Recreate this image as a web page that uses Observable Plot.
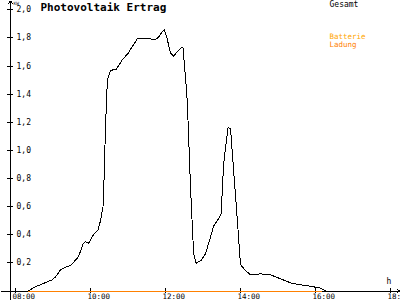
<!DOCTYPE html>
<html>
<head>
<meta charset="utf-8">
<script src="https://cdn.jsdelivr.net/npm/d3@7"></script>
<script src="https://cdn.jsdelivr.net/npm/@observablehq/plot@0.6"></script>
<style>
  html, body { margin: 0; padding: 0; background: #fff; }
  svg { display: block; }
</style>
</head>
<body>
<div id="chart"></div>
<script>
// ---- data ----
const pvTimes = ["07:52","08:20","08:32","08:59","09:04","09:12","09:20","09:28","09:41","09:48","09:52","09:57",
  "10:04","10:12","10:16","10:20","10:21","10:24","10:27","10:32","10:41","10:51","11:00","11:08","11:15","11:23",
  "11:33","11:43","11:49","11:55","11:58","12:02","12:08","12:13","12:19","12:26","12:28","12:32","12:35","12:40",
  "12:45","12:49","12:57","13:04","13:12","13:17","13:25","13:29","13:33","13:40","13:44","13:49","13:55","14:00",
  "14:08","14:16","14:32","14:48","15:04","15:20","15:36","15:52","16:08","16:16"];
const pvValues = [0,0,0.03,0.08,0.10,0.15,0.17,0.18,0.245,0.335,0.35,0.34,
  0.395,0.435,0.50,0.60,0.69,1.165,1.50,1.57,1.575,1.645,1.69,1.746,1.794,1.794,
  1.796,1.787,1.805,1.846,1.858,1.805,1.694,1.67,1.703,1.734,1.73,1.52,1.334,0.738,
  0.267,0.198,0.217,0.265,0.383,0.461,0.514,0.549,0.905,1.161,1.157,0.857,0.501,0.188,
  0.146,0.115,0.122,0.115,0.087,0.058,0.044,0.034,0.02,0];
const chargeTimes = ["07:52","16:10"];
const chargeValues = [0, 0];
const yTicks = [0.2,0.4,0.6,0.8,1.0,1.2,1.4,1.6,1.8,2.0];
const xTicks = ["08:00","10:00","12:00","14:00","16:00","18:00"];
const titleText = "Photovoltaik Ertrag";
const unitText = "KW";
const xUnitText = "h";
const legendTotal = "Gesamt";
const legendBattery = "Batterie";
const legendCharge = "Ladung";

// ---- helpers ----
const toH = s => +s.slice(0, 2) + (+s.slice(3)) / 60;
const pv = pvTimes.map((t, i) => ({h: toH(t), v: pvValues[i]}));
const charge = chargeTimes.map((t, i) => ({h: toH(t), v: chargeValues[i]}));
const xt = xTicks.map(toH);
const fmtY = d => d.toFixed(1).replace(".", ",");
const fmtX = d => String(Math.floor(d)).padStart(2, "0") + ":00";
const FONT = "DejaVu Sans Mono";
const axisX0 = toH("07:52");   // y axis position
const halfTickH = 0.08;        // half-length of y ticks (hours)
const halfTickV = 0.0213;      // half-length of x ticks (value units)

const plot = Plot.plot({
  width: 400,
  height: 300,
  marginLeft: 15,
  marginRight: 10,
  marginTop: 9.3,
  marginBottom: 9.5,
  x: {domain: [8, 18], axis: null},
  y: {domain: [0, 2], axis: null},
  style: {fontFamily: FONT, background: "#fff", shapeRendering: "crispEdges"},
  marks: [
    // axes
    Plot.arrow([{x1: 7.6, x2: 18.24, y: 0}], {x1: "x1", x2: "x2", y1: "y", y2: "y", stroke: "#000", strokeWidth: 1, headLength: 5, headAngle: 80}),
    Plot.arrow([{x: axisX0, y1: -0.07, y2: 2.062}], {x1: "x", x2: "x", y1: "y1", y2: "y2", stroke: "#000", strokeWidth: 1, headLength: 4, headAngle: 80}),
    Plot.ruleY(yTicks, {y: d => d, x1: axisX0 - halfTickH, x2: axisX0 + halfTickH, stroke: "#000"}),
    Plot.ruleX(xt, {x: d => d, y1: -halfTickV, y2: halfTickV, stroke: "#000"}),
    Plot.text(yTicks, {x: axisX0, y: d => d, text: fmtY, textAnchor: "start", lineAnchor: "middle", dx: 6, fontSize: 8, fill: "#000"}),
    Plot.text(xt, {x: d => d, y: 0, text: fmtX, textAnchor: "start", lineAnchor: "bottom", dx: -3, dy: 8, fontSize: 7.5, fill: "#000"}),
    // series
    Plot.line(charge, {x: "h", y: "v", stroke: "#ff8000", strokeWidth: 1}),
    Plot.line(pv, {x: "h", y: "v", stroke: "#000", strokeWidth: 1}),
    // labels
    Plot.text([titleText], {frameAnchor: "top-left", dx: 25, dy: 1.2, lineAnchor: "bottom", textAnchor: "start", fontSize: 11, fontWeight: "bold", fill: "#000"}),
    Plot.text([unitText], {frameAnchor: "top-left", dx: -2, dy: -4.6, lineAnchor: "bottom", textAnchor: "start", fontSize: 4.5, fill: "#000"}),
    Plot.text([xUnitText], {frameAnchor: "bottom-right", dx: -4, dy: -7.5, lineAnchor: "bottom", textAnchor: "start", fontSize: 8, fill: "#000"}),
    Plot.text([legendTotal], {frameAnchor: "top-left", dx: 314, dy: -2.6, lineAnchor: "bottom", textAnchor: "start", fontSize: 8, fill: "#000"}),
    Plot.text([legendBattery], {frameAnchor: "top-left", dx: 314, dy: 28.7, lineAnchor: "bottom", textAnchor: "start", fontSize: 7.5, fill: "#ffa500"}),
    Plot.text([legendCharge], {frameAnchor: "top-left", dx: 314, dy: 36.7, lineAnchor: "bottom", textAnchor: "start", fontSize: 7.5, fill: "#ff8000"})
  ]
});
document.getElementById("chart").appendChild(plot);
</script>
</body>
</html>
